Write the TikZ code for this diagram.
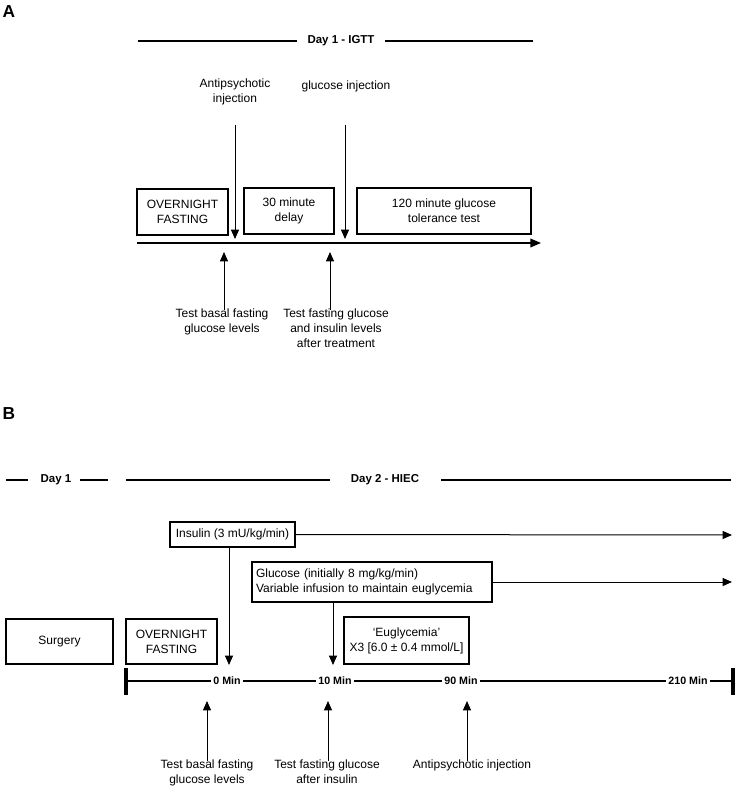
\documentclass[tikz,border=0pt]{standalone}
\usepackage{fontspec}
\setmainfont{Liberation Sans}
\usetikzlibrary{arrows.meta}
\begin{document}
\begin{tikzpicture}[x=0.75pt,y=-0.75pt,
  txt/.style={font=\fontsize{9}{11.25}\selectfont, inner sep=0pt, align=center},
  box/.style={draw, line width=0.8pt, font=\fontsize{9}{11.25}\selectfont, align=center, inner sep=2pt},
  daylbl/.style={font=\bfseries\fontsize{8.6}{10}\selectfont, inner sep=0pt},
  minlbl/.style={font=\bfseries\fontsize{8}{10}\selectfont, fill=white, inner sep=1.5pt},
  panel/.style={font=\bfseries\fontsize{13}{15}\selectfont, inner sep=0pt},
  dayline/.style={line width=2pt},
  arr/.style={line width=0.75pt, -{Triangle[length=7pt,width=6pt]}},
]
\useasboundingbox (0,0) rectangle (738,787);

% ---------- Panel A ----------
\node[panel] (A) at (9,12) {A};
\coordinate (dA1) at (138,41);
\coordinate (dA2) at (297,41);
\coordinate (dA3) at (385,41);
\coordinate (dA4) at (533,41);
\node[daylbl] (dayA) at (341,41) {Day 1 - IGTT};
\draw[dayline] (dA1) -- (dA2);
\draw[dayline] (dA3) -- (dA4);

\node[txt] (antiA) at (235,92) {Antipsychotic\\injection};
\node[txt] (glucA) at (346,86) {glucose injection};

\node[box, minimum width=91*0.75pt, minimum height=46*0.75pt] (fastA) at (182.5,212) {OVERNIGHT\\FASTING};
\node[box, minimum width=90*0.75pt, minimum height=46*0.75pt] (delay) at (289,211) {30 minute\\delay};
\node[box, minimum width=174*0.75pt, minimum height=46*0.75pt] (gtt) at (444,211) {120 minute glucose\\tolerance test};

\coordinate (tA0) at (137,243);
\coordinate (tA1) at (541,243);
\draw[line width=1.1pt, -{Triangle[length=8pt,width=6.5pt]}] (tA0) -- (tA1);

\coordinate (a1s) at (235,125);
\coordinate (a1e) at (235,239);
\coordinate (a2s) at (345,125);
\coordinate (a2e) at (345,239);
\draw[arr] (a1s) -- (a1e);
\draw[arr] (a2s) -- (a2e);

\node[txt, anchor=north] (testA1) at (222,309) {Test basal fasting\\glucose levels};
\node[txt, anchor=north] (testA2) at (336,309) {Test fasting glucose\\and insulin levels\\after treatment};
\coordinate (u1s) at (224,310);
\coordinate (u1e) at (224,252);
\coordinate (u2s) at (330,310);
\coordinate (u2e) at (330,252);
\draw[arr] (u1s) -- (u1e);
\draw[arr] (u2s) -- (u2e);

% ---------- Panel B ----------
\node[panel] (B) at (9,414) {B};
\coordinate (dB1) at (6,480);
\coordinate (dB2) at (28,480);
\coordinate (dB3) at (80,480);
\coordinate (dB4) at (108,480);
\coordinate (dB5) at (126,480);
\coordinate (dB6) at (330,480);
\coordinate (dB7) at (441,480);
\coordinate (dB8) at (731,480);
\node[daylbl] (day1B) at (56,480) {Day 1};
\node[daylbl] (day2B) at (385,480) {Day 2 - HIEC};
\draw[dayline] (dB1) -- (dB2);
\draw[dayline] (dB3) -- (dB4);
\draw[dayline] (dB5) -- (dB6);
\draw[dayline] (dB7) -- (dB8);

\node[box, minimum width=125*0.75pt, minimum height=25*0.75pt] (ins) at (232.5,534.5) {Insulin (3 mU/kg/min)};
\node[box, minimum width=240*0.75pt, minimum height=40*0.75pt, align=left, text width=232*0.75pt] (gluc) at (372,582) {Glucose (initially 8 mg/kg/min)\\Variable infusion to maintain euglycemia};
\node[box, minimum width=125*0.75pt, minimum height=47*0.75pt] (eug) at (406.5,640.5) {`Euglycemia'\\X3 [6.0 ± 0.4 mmol/L]};
\node[box, minimum width=107*0.75pt, minimum height=45*0.75pt] (surg) at (59.5,641.5) {Surgery};
\node[box, minimum width=91*0.75pt, minimum height=45*0.75pt] (fastB) at (171.5,641.5) {OVERNIGHT\\FASTING};

\coordinate (insE) at (732,535);
\coordinate (glucE) at (732,582);
\draw[arr] (ins.east) -- (insE);
\draw[arr] (gluc.east) -- (glucE);

\coordinate (ia) at (229,547);
\coordinate (ib) at (229,665);
\coordinate (ga) at (333,602);
\coordinate (gb) at (333,665);
\draw[arr] (ia) -- (ib);
\draw[arr] (ga) -- (gb);

\coordinate (tB0) at (126,681);
\coordinate (tB1) at (733,681);
\coordinate (bl0) at (126,668);
\coordinate (bl1) at (126,695);
\coordinate (br0) at (733,668);
\coordinate (br1) at (733,695);
\draw[line width=2pt] (tB0) -- (tB1);
\draw[line width=2.4pt] (bl0) -- (bl1);
\draw[line width=2.4pt] (br0) -- (br1);
\node[minlbl] (m0) at (227,681) {0 Min};
\node[minlbl] (m10) at (335,681) {10 Min};
\node[minlbl] (m90) at (461,681) {90 Min};
\node[minlbl] (m210) at (688,681) {210 Min};

\node[txt, anchor=north] (testB1) at (207,760) {Test basal fasting\\glucose levels};
\node[txt, anchor=north] (testB2) at (327,760) {Test fasting glucose\\after insulin};
\node[txt, anchor=north] (antiB) at (472,760) {Antipsychotic injection};
\coordinate (v1s) at (207,761);
\coordinate (v1e) at (207,701);
\coordinate (v2s) at (328,761);
\coordinate (v2e) at (328,701);
\coordinate (v3s) at (467,761);
\coordinate (v3e) at (467,701);
\draw[arr] (v1s) -- (v1e);
\draw[arr] (v2s) -- (v2e);
\draw[arr] (v3s) -- (v3e);
\end{tikzpicture}
\end{document}
